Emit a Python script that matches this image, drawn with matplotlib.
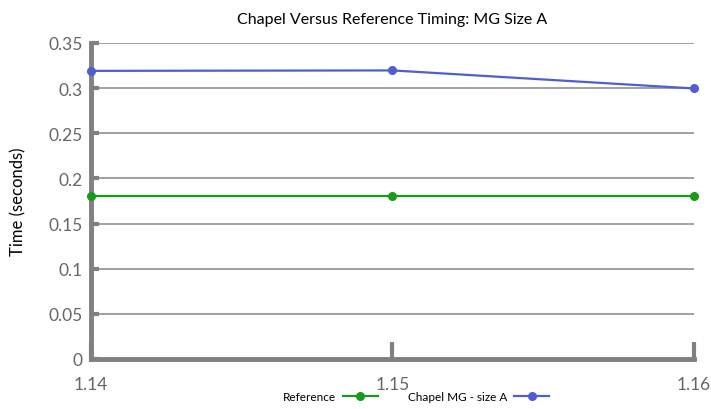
import matplotlib
matplotlib.use("Agg")
import matplotlib.pyplot as plt

versions = [1.14, 1.15, 1.16]
reference_times = [0.18, 0.18, 0.18]
chapel_times = [0.319, 0.3195, 0.2995]
y_ticks = [0, 0.05, 0.1, 0.15, 0.2, 0.25, 0.3, 0.35]
y_labels = ["0", "0.05", "0.1", "0.15", "0.2", "0.25", "0.3", "0.35"]

plt.rcParams["font.family"] = ["Lato", "DejaVu Sans"]

fig = plt.figure(figsize=(7.11, 4.10), dpi=100)
ax = fig.add_axes([0.128, 0.122, 0.848, 0.771])

grey = "#808080"
ax.plot(versions, reference_times, color="#1a9a1a", lw=1.6, marker="o",
        markersize=5.5, label="Reference", zorder=3, clip_on=False)
ax.plot(versions, chapel_times, color="#4f5fd0", lw=1.6, marker="o",
        markersize=5.5, label="Chapel MG - size A", zorder=3, clip_on=False)

ax.set_xlim(1.14, 1.16)
ax.set_ylim(0, 0.35)
ax.set_yticks(y_ticks)
ax.set_yticklabels(y_labels)
ax.set_xticks(versions)
ax.set_xticklabels([str(v) for v in versions])

for y in y_ticks[1:]:
    ax.axhline(y, color="#999999", lw=1.3, zorder=1)

for side in ["top", "right"]:
    ax.spines[side].set_visible(False)
for side in ["left", "bottom"]:
    ax.spines[side].set_color(grey)
    ax.spines[side].set_linewidth(3.5)

ax.tick_params(axis="y", direction="in", length=6, width=3, color=grey,
               labelcolor="#666666", labelsize=12.5, pad=6)
ax.tick_params(axis="x", direction="in", length=12, width=3, color=grey,
               labelcolor="#666666", labelsize=12.5, pad=12)

ax.set_ylabel("Time (seconds)", fontsize=12, labelpad=16)
ax.set_title("Chapel Versus Reference Timing: MG Size A", fontsize=11.5, pad=14)

handles, labels = ax.get_legend_handles_labels()
fig.legend(handles, labels, loc="center", bbox_to_anchor=(0.585, 12 / 410),
           ncol=2, frameon=False, markerfirst=False, fontsize=8.5,
           handlelength=3, columnspacing=2.5, handletextpad=0.6,
           borderpad=0.1)

fig.savefig("out.png", dpi=100)
